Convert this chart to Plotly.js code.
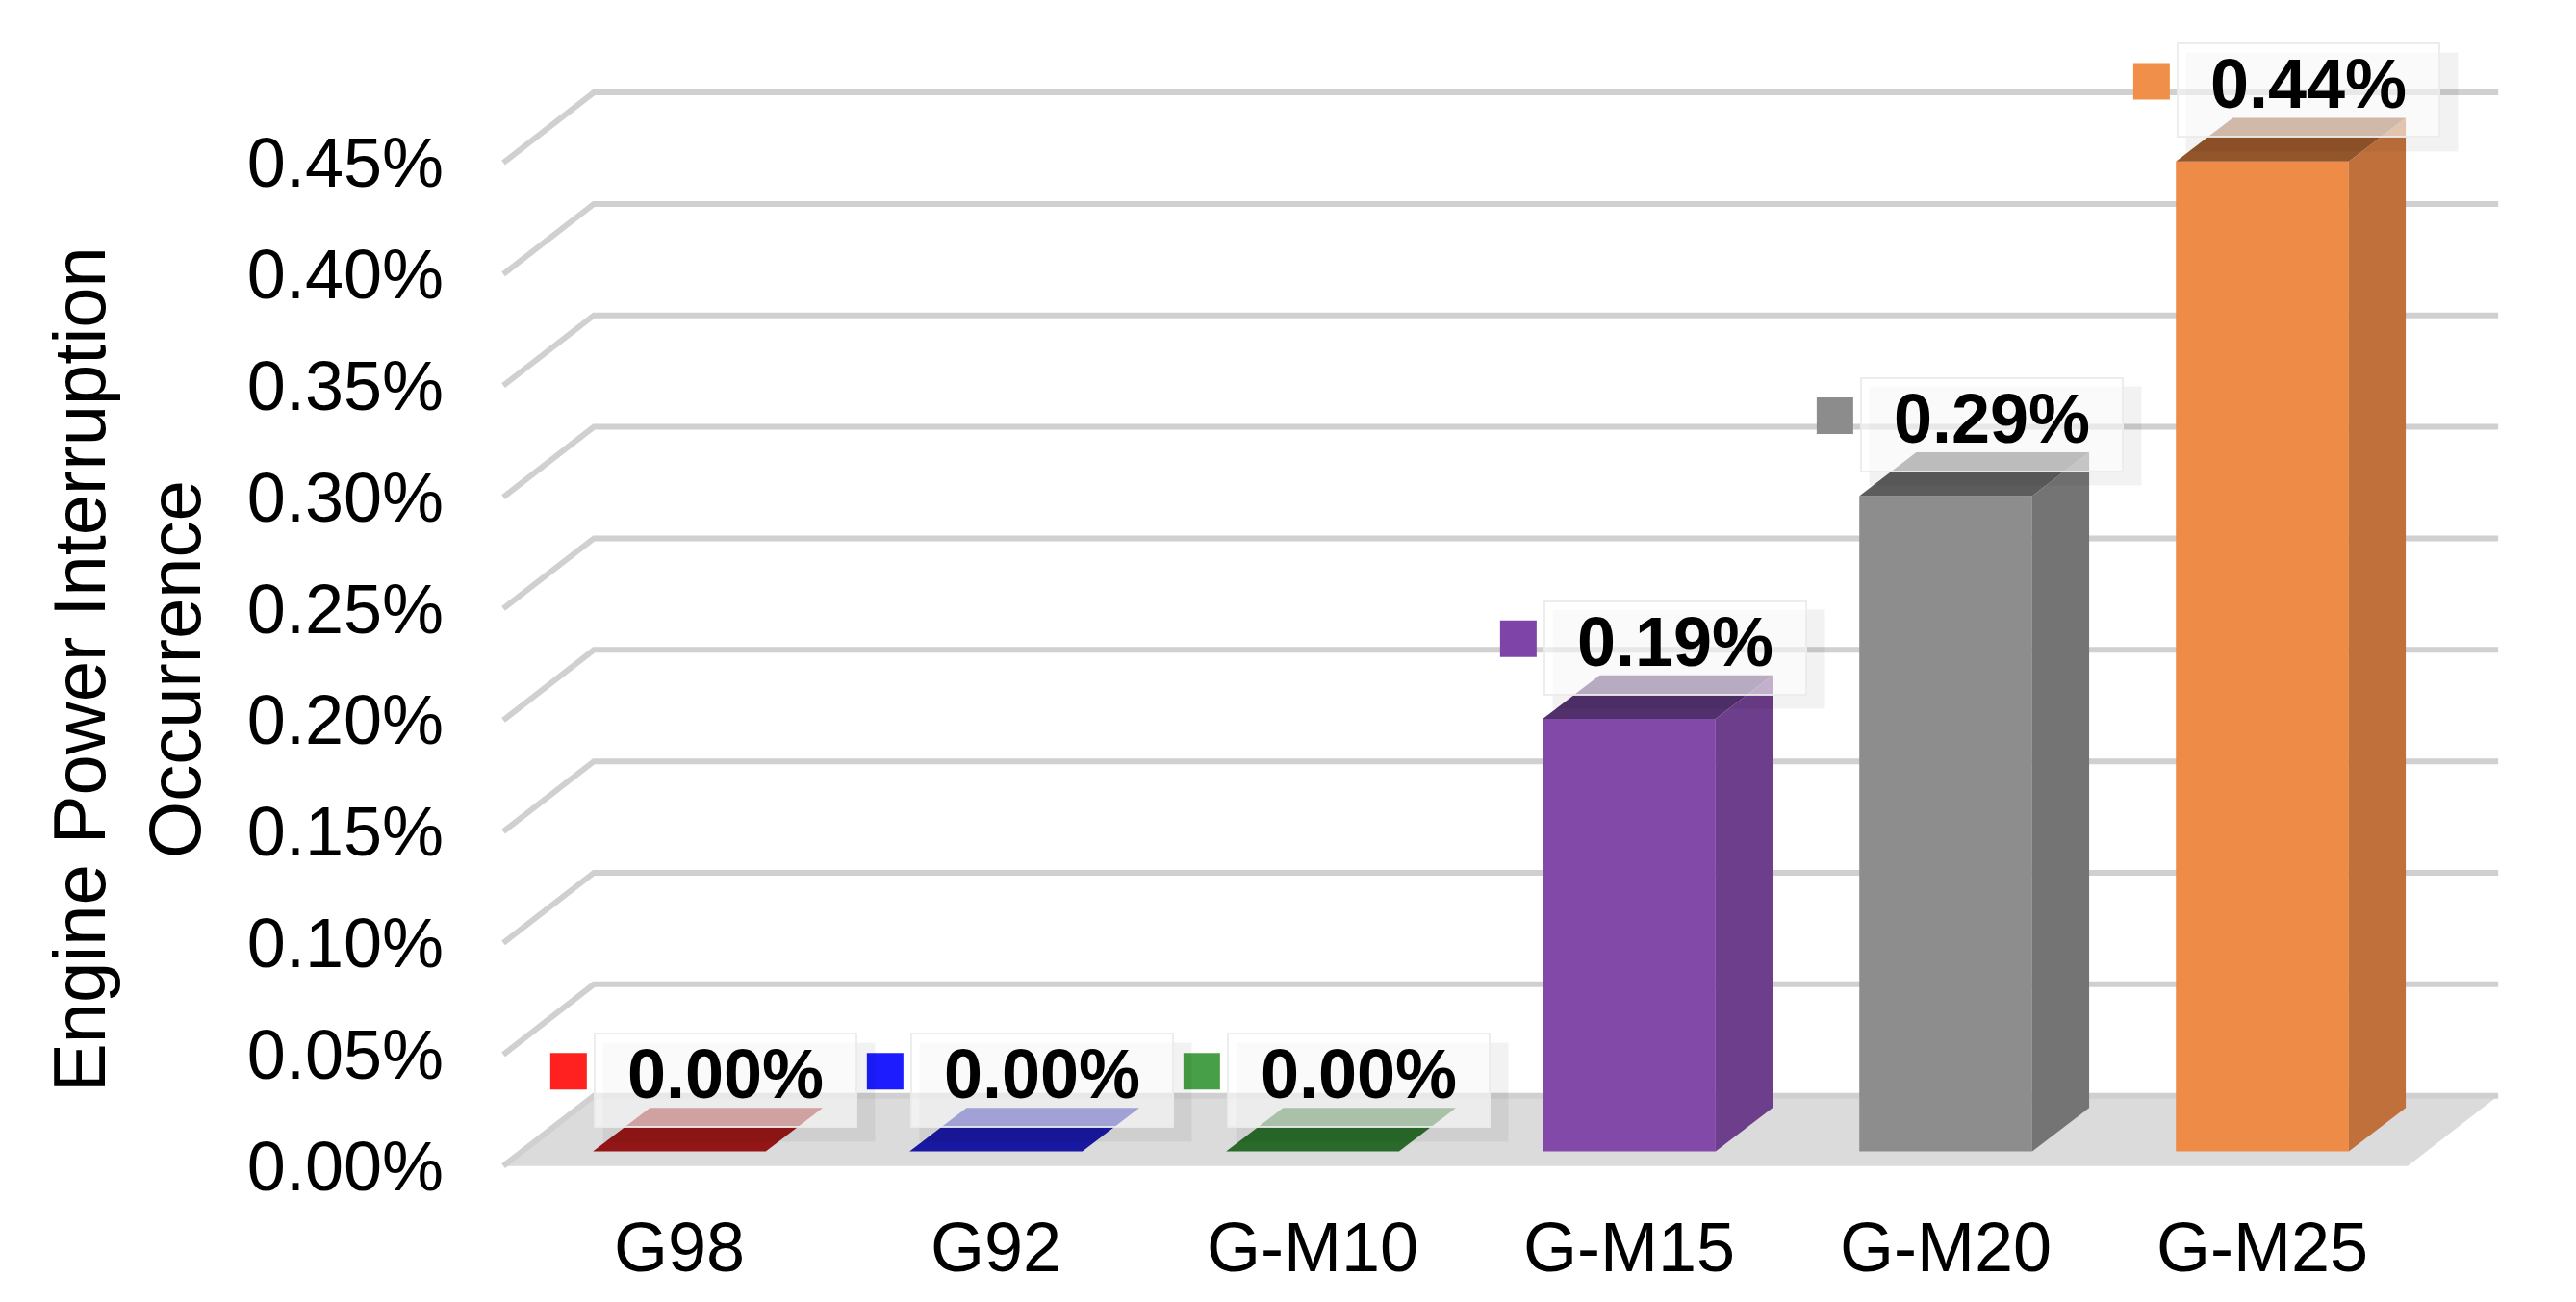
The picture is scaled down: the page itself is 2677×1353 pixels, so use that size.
<!DOCTYPE html>
<html>
<head>
<meta charset="utf-8">
<script src="https://cdn.plot.ly/plotly-3.0.1.min.js"></script>
<style>
  html, body { margin: 0; padding: 0; background: #ffffff; }
  #chart { width: 2677px; height: 1353px; }
</style>
</head>
<body>
<div id="chart"></div>
<script>
// Data (bar heights; labels round to two decimals)
const categories = ['G98', 'G92', 'G-M10', 'G-M15', 'G-M20', 'G-M25'];
const occurrence = [0.0000, 0.0000, 0.0000, 0.00194, 0.00294, 0.00444];
const yTicks = [0, 0.0005, 0.0010, 0.0015, 0.0020, 0.0025, 0.0030, 0.0035, 0.0040, 0.0045];

// Colours per category: key square, front face, side face, top face
const keyColors   = ['#ff2020', '#1c1cff', '#47a047', '#7f44a8', '#8c8c8c', '#f08f4a'];
const frontColors = ['#b01c1c', '#1f1fb0', '#347d34', '#8249a8', '#8d8d8d', '#ee8b47'];
const sideColors  = ['#8a1414', '#16168a', '#285f28', '#6c3e8b', '#747474', '#c0713b'];
const topColors   = ['#931616', '#1818a0', '#2a6a2a', '#52306b', '#5c5c5c', '#93552a'];

// Pseudo-3D geometry (axis units)
const BAR_HALF = 0.273;
const BAR_BASE = 0.000065;
const BAR_DX = 0.18, BAR_DY = 0.000196;
const FLOOR_LEFT = -0.556, FLOOR_RIGHT = 5.459;
const FLOOR_DX = 0.286, FLOOR_DY = 0.000315;
const FONT = 'Liberation Sans, Arial, sans-serif';

const xs = categories.map((_, i) => i);
const traces = [];

function face(x, y, color) {
    return {
        x: x, y: y, type: 'scatter', mode: 'lines', fill: 'toself',
        fillcolor: color, line: { width: 0 }, hoverinfo: 'skip',
    };
}

// floor
traces.push(face(
    [FLOOR_LEFT, FLOOR_RIGHT, FLOOR_RIGHT + FLOOR_DX, FLOOR_LEFT + FLOOR_DX, FLOOR_LEFT],
    [0, 0, FLOOR_DY, FLOOR_DY, 0],
    '#dcdbdc'
));

// gridlines: diagonal on the left, then along the back wall
const gx = [], gy = [];
yTicks.forEach(t => {
    gx.push(FLOOR_LEFT, FLOOR_LEFT + FLOOR_DX, FLOOR_RIGHT + FLOOR_DX, null);
    gy.push(t, t + FLOOR_DY, t + FLOOR_DY, null);
});
traces.push({
    x: gx, y: gy, type: 'scatter', mode: 'lines',
    line: { color: '#d0d0d0', width: 6 }, hoverinfo: 'skip',
});

// bars: front, side and top faces
occurrence.forEach((v, i) => {
    const r = i + BAR_HALF, l = i - BAR_HALF, top = BAR_BASE + v;
    if (v > 0) {
        traces.push(face([l, r, r, l, l], [BAR_BASE, BAR_BASE, top, top, BAR_BASE], frontColors[i]));
        traces.push(face(
            [r, r + BAR_DX, r + BAR_DX, r, r],
            [BAR_BASE, BAR_BASE + BAR_DY, top + BAR_DY, top, BAR_BASE],
            sideColors[i]
        ));
    }
    traces.push(face(
        [l, r, r + BAR_DX, l + BAR_DX, l],
        [top, top, top + BAR_DY, top + BAR_DY, top],
        topColors[i]
    ));
});

// legend-key squares beside the data labels
traces.push({
    x: xs.map(i => i - 0.35),
    y: occurrence.map(v => BAR_BASE + v + 0.00036),
    type: 'scatter', mode: 'markers',
    marker: { symbol: 'square', size: 38, color: keyColors, line: { width: 0 } },
    hoverinfo: 'skip',
});

// soft shadows behind the label boxes, then the labels
const shadows = occurrence.map((v, i) => ({
    x: i, y: BAR_BASE + v, xref: 'x', yref: 'y', text: ' ', showarrow: false,
    xanchor: 'center', yanchor: 'middle', xshift: 62, yshift: 62,
    width: 280, height: 100, bgcolor: 'rgba(0,0,0,0.05)',
}));

const labels = occurrence.map((v, i) => ({
    x: i, y: BAR_BASE + v, xref: 'x', yref: 'y',
    text: '<b>' + (v * 100).toFixed(2) + '%</b>',
    showarrow: false, xanchor: 'center', yanchor: 'middle',
    xshift: 48, yshift: 74,
    width: 268, height: 93, valign: 'top',
    bgcolor: 'rgba(255,255,255,0.6)',
    bordercolor: 'rgba(235,235,235,0.9)', borderwidth: 2,
    font: { family: FONT, size: 72, color: '#000000' },
}));

const axisTitle = {
    xref: 'paper', yref: 'paper', x: -0.1757, y: 0.4585,
    xanchor: 'center', yanchor: 'middle', textangle: -90, showarrow: false,
    text: 'Engine Power Interruption<br>Occurrence',
    font: { family: FONT, size: 76, color: '#000000' },
};

const layout = {
    width: 2677, height: 1353,
    paper_bgcolor: '#ffffff', plot_bgcolor: 'rgba(0,0,0,0)',
    margin: { l: 502, r: 69, t: 30, b: 95 },
    showlegend: false,
    font: { family: FONT, size: 72, color: '#000000' },
    xaxis: {
        range: [-0.62, 5.781], tickvals: xs, ticktext: categories,
        showgrid: false, zeroline: false, showline: false, ticks: '',
        ticklabelstandoff: -10,
        tickfont: { family: FONT, size: 72, color: '#000000' },
        fixedrange: true,
    },
    yaxis: {
        range: [-0.0002, 0.0051], tickvals: yTicks, tickformat: '.2%',
        showgrid: false, zeroline: false, showline: false, ticks: '',
        ticklabelstandoff: 40,
        tickfont: { family: FONT, size: 72, color: '#000000' },
        fixedrange: true,
    },
    annotations: shadows.concat(labels, [axisTitle]),
};

Plotly.newPlot('chart', traces, layout, { displayModeBar: false, staticPlot: true });
</script>
</body>
</html>
